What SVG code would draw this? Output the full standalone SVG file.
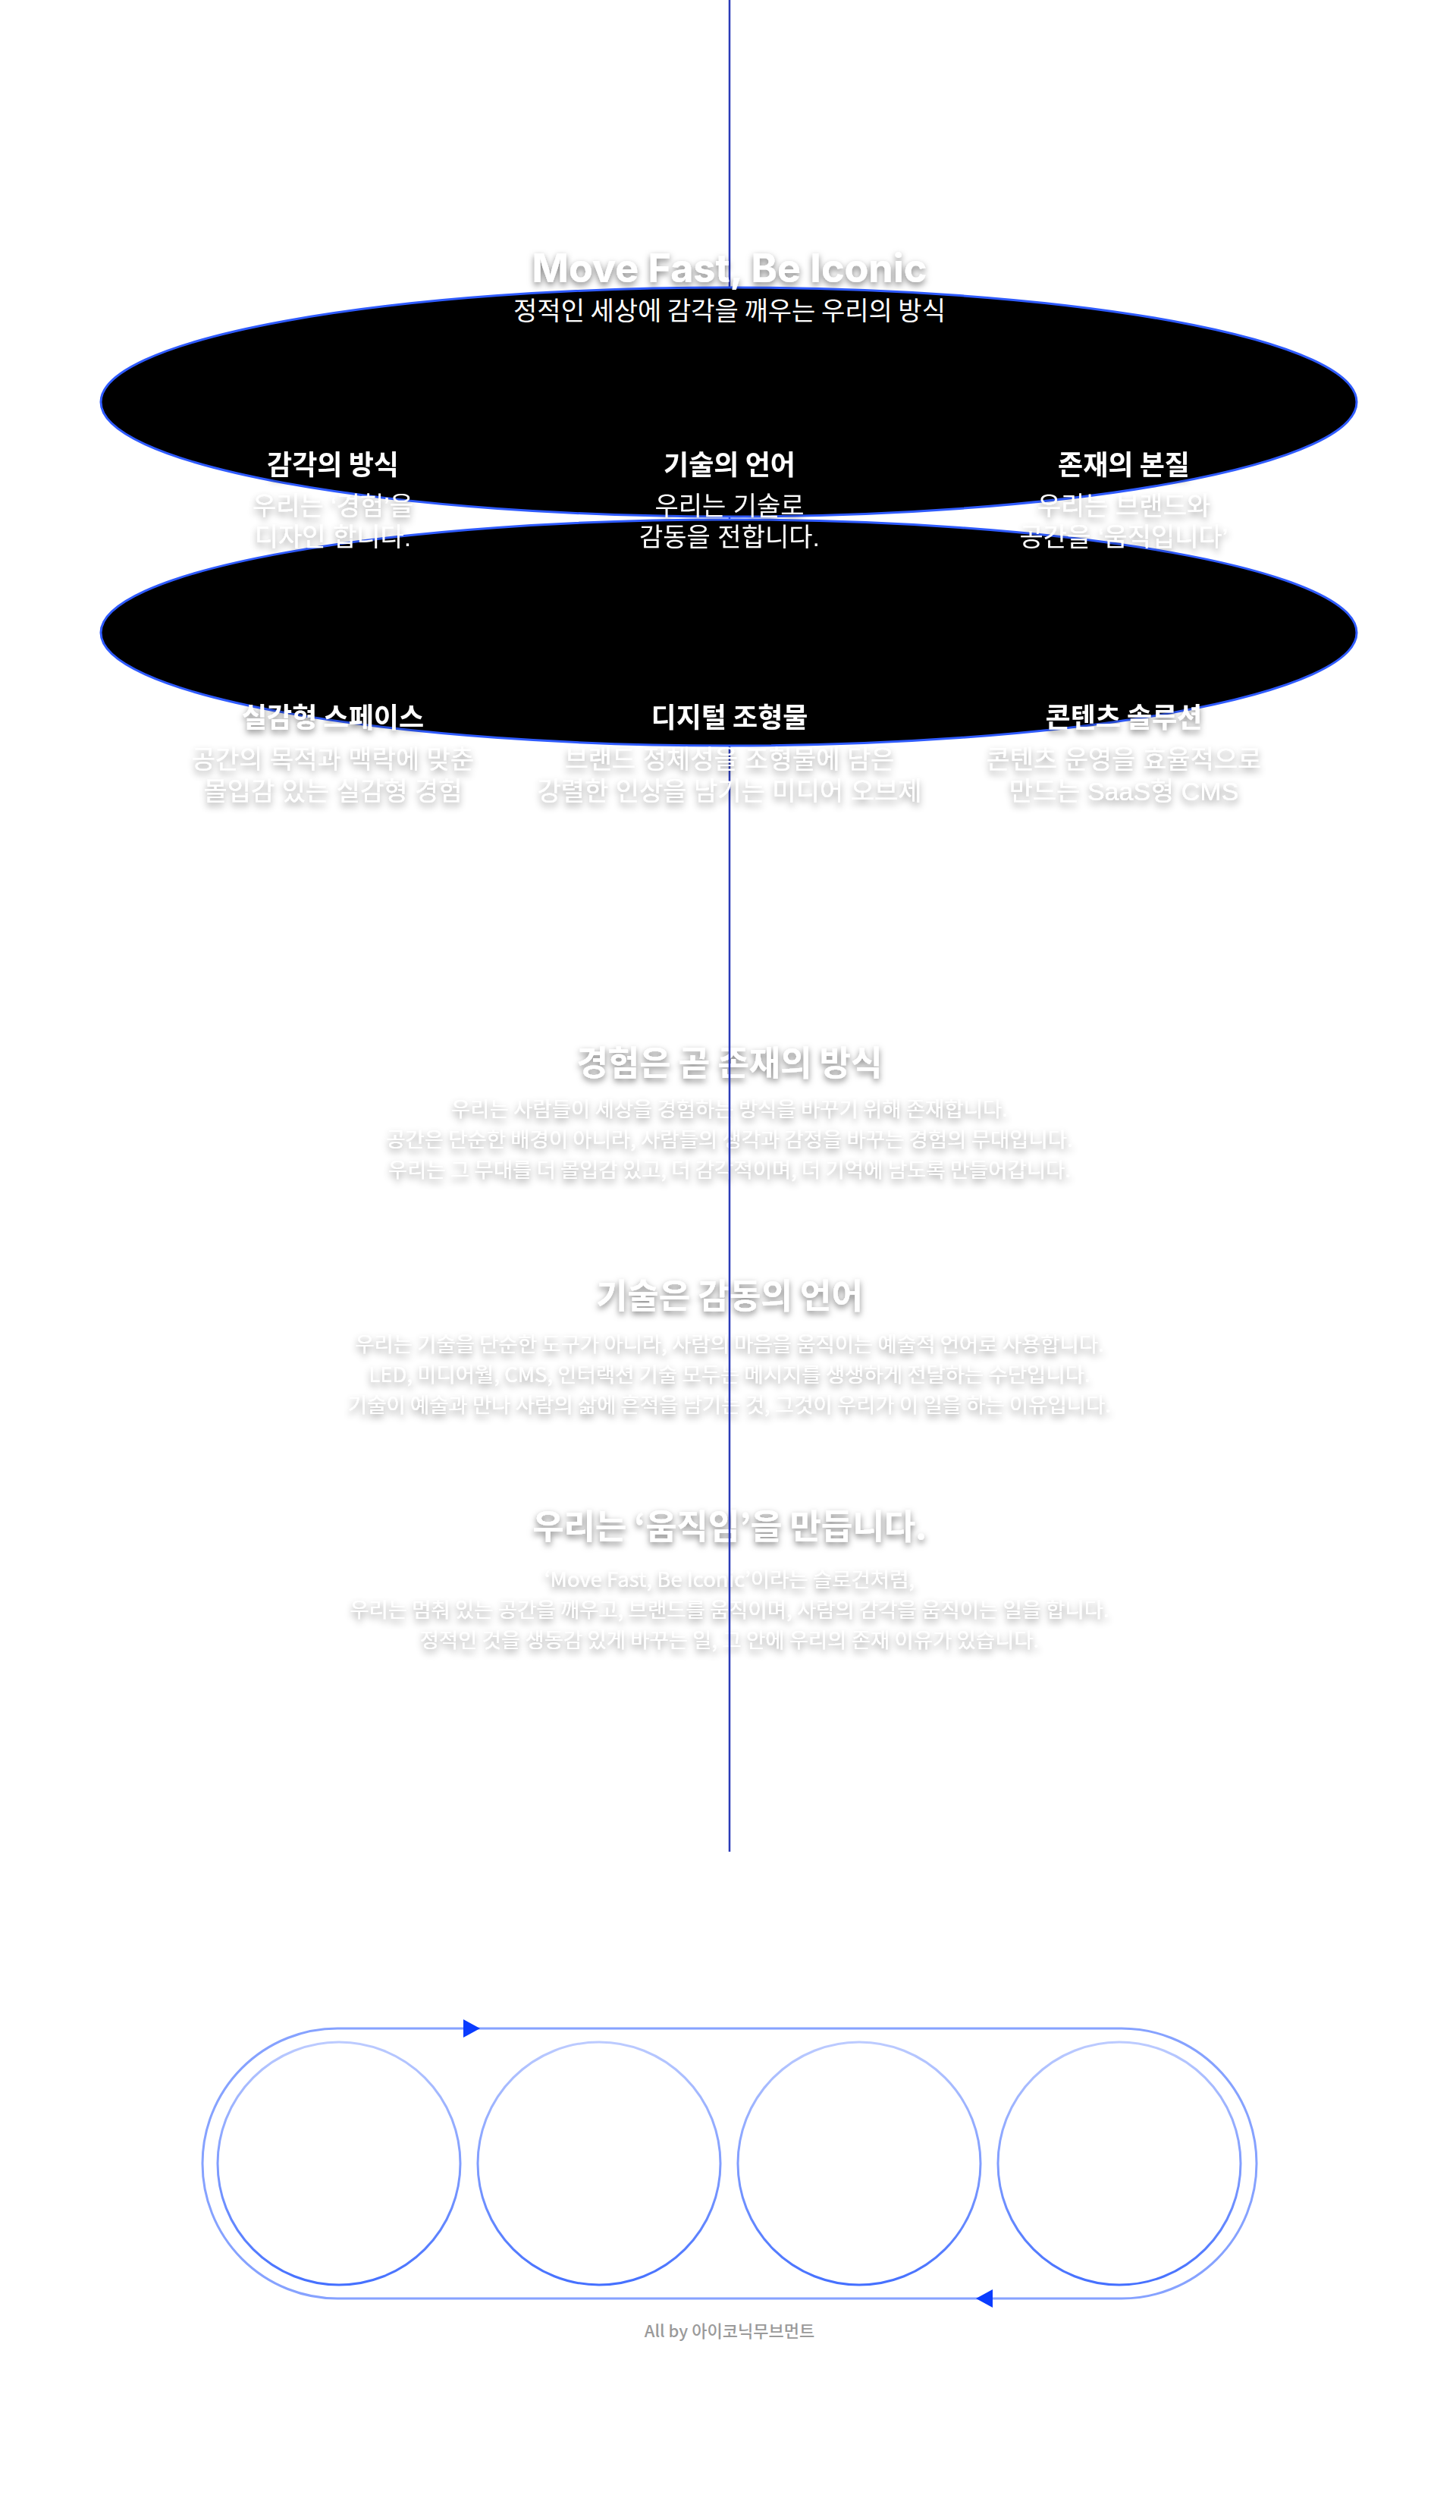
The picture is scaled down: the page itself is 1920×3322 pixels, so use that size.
<svg xmlns="http://www.w3.org/2000/svg" width="1920" height="3322" viewBox="0 0 1920 3322">
<style>
.ko{font-family:"Noto Sans CJK KR","Noto Sans",sans-serif}
.kd{font-family:"Liberation Sans","Noto Sans CJK KR",sans-serif}
.w{fill:#ffffff}
.c{text-anchor:middle}
.lab{font-size:36px;font-weight:700}
.desc{font-size:34px;font-weight:400}
.head{font-size:45px;font-weight:700}
.para{font-size:27.5px;font-weight:400}
.ell{fill:#000;stroke:#2f5bff;stroke-width:3}
.ring{fill:none;stroke:url(#ringGrad);stroke-width:3}
.track{fill:none;stroke:#86a2ff;stroke-width:3}
</style>
<defs>
<filter id="hs" x="-20%" y="-60%" width="140%" height="220%">
<feDropShadow dx="0" dy="4" stdDeviation="4.5" flood-color="#000" flood-opacity="0.5"/>
</filter>
<filter id="ds" x="-20%" y="-80%" width="140%" height="260%">
<feDropShadow dx="0" dy="5" stdDeviation="5" flood-color="#000" flood-opacity="0.42"/>
</filter>
<linearGradient id="ringGrad" x1="0" y1="0" x2="0" y2="1">
<stop offset="0" stop-color="#bccbff"/>
<stop offset="1" stop-color="#4570ff"/>
</linearGradient>
<marker id="arr" viewBox="0 0 22 24" refX="22" refY="12" markerWidth="22" markerHeight="24" markerUnits="userSpaceOnUse" orient="auto">
<path d="M0,0 L22,12 L0,24 Z" fill="#0a3cff"/>
</marker>
</defs>
<rect width="1920" height="3322" fill="#ffffff"/>

<g id="sections">
<g id="section-experience">
<text class="ko w c head" x="962" y="1418" filter="url(#hs)">경험은 곧 존재의 방식</text>
<g class="ko w c para" filter="url(#ds)">
<text x="962" y="1472">우리는 사람들이 세상을 경험하는 방식을 바꾸기 위해 존재합니다.</text>
<text x="962" y="1512">공간은 단순한 배경이 아니라, 사람들의 생각과 감정을 바꾸는 경험의 무대입니다.</text>
<text x="962" y="1552">우리는 그 무대를 더 몰입감 있고, 더 감각적이며, 더 기억에 남도록 만들어갑니다.</text>
</g>
</g>
<g id="section-technology">
<text class="ko w c head" x="962" y="1725" filter="url(#hs)">기술은 감동의 언어</text>
<g class="ko w c para" filter="url(#ds)">
<text x="962" y="1782">우리는 기술을 단순한 도구가 아니라, 사람의 마음을 움직이는 예술적 언어로 사용합니다.</text>
<text x="962" y="1822">LED, 미디어월, CMS, 인터랙션 기술 모두는 메시지를 생생하게 전달하는 수단입니다.</text>
<text x="962" y="1862">기술이 예술과 만나 사람의 삶에 흔적을 남기는 것, 그것이 우리가 이 일을 하는 이유입니다.</text>
</g>
</g>
<g id="section-movement">
<text class="ko w c head" x="962" y="2029" filter="url(#hs)">우리는 ‘움직임’을 만듭니다.</text>
<g class="ko w c para" filter="url(#ds)">
<text x="962" y="2092">‘Move Fast, Be Iconic’이라는 슬로건처럼,</text>
<text x="962" y="2132">우리는 멈춰 있는 공간을 깨우고, 브랜드를 움직이며, 사람의 감각을 움직이는 일을 합니다.</text>
<text x="962" y="2172">정적인 것을 생동감 있게 바꾸는 일, 그 안에 우리의 존재 이유가 있습니다.</text>
</g>
</g>
</g>

<g id="connectors">
<line id="axis" x1="962" y1="0" x2="962" y2="2441" stroke="#2a3ab8" stroke-width="2.5"/>
<rect id="loop" class="track" x="267" y="2674" width="1390" height="356" rx="178" ry="178"/>
<path d="M560,2674 L633,2674" fill="none" stroke="none" marker-end="url(#arr)"/>
<path d="M1360,3030 L1287,3030" fill="none" stroke="none" marker-end="url(#arr)"/>
</g>

<g id="ellipse-top">
<ellipse class="ell" cx="961" cy="530" rx="828" ry="151"/>
</g>
<g id="ellipse-bottom">
<ellipse class="ell" cx="961" cy="834" rx="828" ry="149"/>
</g>

<g id="title">
<text x="962" y="372" text-anchor="middle" font-family="Inter, 'Open Sans', sans-serif" font-size="52" font-weight="700" fill="#fff" filter="url(#hs)">Move Fast, Be Iconic</text>
<text class="ko w c" x="962" y="422" font-size="34">정적인 세상에 감각을 깨우는 우리의 방식</text>
</g>

<g id="node-sense">
<text class="ko w c lab" x="439" y="626" filter="url(#hs)">감각의 방식</text>
<g class="kd w c desc" filter="url(#ds)"><text x="439" y="679">우리는 ‘경험’을</text><text x="439" y="720">디자인 합니다.</text></g>
</g>
<g id="node-language">
<text class="ko w c lab" x="962" y="626" filter="url(#hs)">기술의 언어</text>
<g class="kd w c desc" filter="url(#ds)"><text x="962" y="679">우리는 기술로</text><text x="962" y="720">감동을 전합니다.</text></g>
</g>
<g id="node-essence">
<text class="ko w c lab" x="1482" y="626" filter="url(#hs)">존재의 본질</text>
<g class="kd w c desc" filter="url(#ds)"><text x="1482" y="679">우리는 브랜드와</text><text x="1482" y="720">공간을 ‘움직입니다’</text></g>
</g>

<g id="node-space">
<text class="ko w c lab" x="439" y="959" filter="url(#hs)">실감형 스페이스</text>
<g class="kd w c desc" filter="url(#ds)"><text x="439" y="1013">공간의 목적과 맥락에 맞춘</text><text x="439" y="1055">몰입감 있는 실감형 경험</text></g>
</g>
<g id="node-sculpture">
<text class="ko w c lab" x="962" y="959" filter="url(#hs)">디지털 조형물</text>
<g class="kd w c desc" filter="url(#ds)"><text x="962" y="1013">브랜드 정체성을 조형물에 담은</text><text x="962" y="1055">강렬한 인상을 남기는 미디어 오브제</text></g>
</g>
<g id="node-content">
<text class="ko w c lab" x="1482" y="959" filter="url(#hs)">콘텐츠 솔루션</text>
<g class="kd w c desc" filter="url(#ds)"><text x="1482" y="1013">콘텐츠 운영을 효율적으로</text><text x="1482" y="1055">만드는 SaaS형 CMS</text></g>
</g>

<g id="circle-1"><circle class="ring" cx="447" cy="2852" r="160"/></g>
<g id="circle-2"><circle class="ring" cx="790" cy="2852" r="160"/></g>
<g id="circle-3"><circle class="ring" cx="1133" cy="2852" r="160"/></g>
<g id="circle-4"><circle class="ring" cx="1476" cy="2852" r="160"/></g>

<g id="footer">
<text x="962" y="3081" text-anchor="middle" font-family="'Noto Sans CJK KR','Noto Sans',sans-serif" font-size="22" font-weight="500" fill="#9a9a9a">All by 아이코닉무브먼트</text>
</g>
</svg>
